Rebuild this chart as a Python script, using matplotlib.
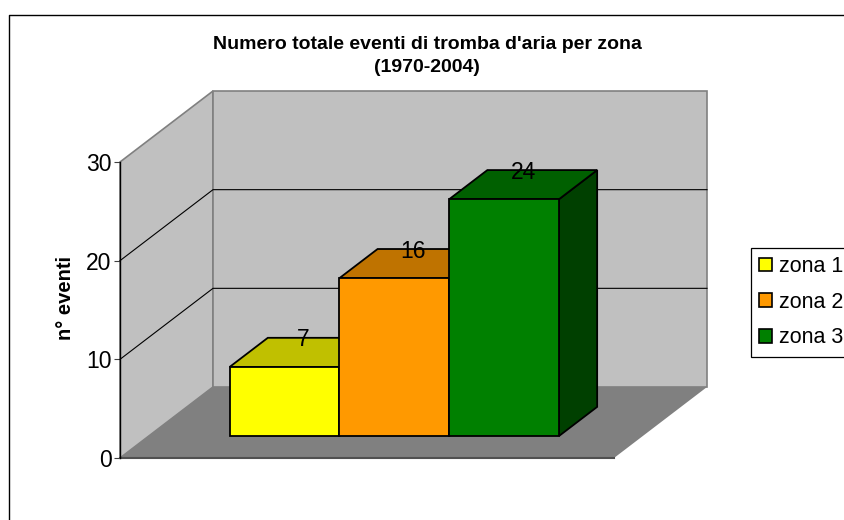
import matplotlib
matplotlib.use("Agg")
import matplotlib.pyplot as plt
from matplotlib.lines import Line2D
from matplotlib.patches import Patch

plt.rcParams["font.family"] = ["Liberation Sans", "DejaVu Sans"]

zones = ["zona 1", "zona 2", "zona 3"]
events = [7, 16, 24]
front_colors = ["#FFFF00", "#FF9900", "#008000"]
top_colors = ["#C0C000", "#BF7300", "#006000"]
side_colors = ["#C0C000", "#BF7300", "#004000"]
y_ticks = [0, 10, 20, 30]
title = "Numero totale eventi di tromba d'aria per zona\n(1970-2004)"

W, H = 845, 520
# the chart is a fake 3D: depth 0..1 shifts a point right and up
X_MAX = 494 / 110
Y_MAX = 30
DEPTH_X = 93 / 110
DEPTH_Y = 71 / (296 / 30)
BAR_DEPTH = (0.31, 0.72)
BAR_START = 0.735
BAR_WIDTH = 0.998


def project(x, v, d):
    return x + d * DEPTH_X, v + d * DEPTH_Y


def box(ax, corners, **kw):
    xs, ys = zip(*[project(*c) for c in corners])
    ax.fill(xs, ys, clip_on=False, **kw)


def main():
    fig = plt.figure(figsize=(W / 100, H / 100), dpi=100)
    ax = fig.add_axes([120 / W, 1 - 458 / H, 494 / W, 296 / H])
    ax.set_xlim(0, X_MAX)
    ax.set_ylim(0, Y_MAX)
    ax.patch.set_visible(False)

    # frame of the chart area, only left and top fall inside the picture
    fig.add_artist(Line2D([9 / W, 9 / W, 1], [0, 1 - 15 / H, 1 - 15 / H], color="black", lw=1))

    # walls and floor
    wall = {"facecolor": "#C0C0C0", "edgecolor": "#808080", "lw": 1.2, "zorder": 1}
    box(ax, [(0, 0, 0), (0, Y_MAX, 0), (0, Y_MAX, 1), (0, 0, 1)], **wall)
    box(ax, [(0, 0, 1), (0, Y_MAX, 1), (X_MAX, Y_MAX, 1), (X_MAX, 0, 1)], **wall)
    box(ax, [(0, 0, 0), (0, 0, 1), (X_MAX, 0, 1), (X_MAX, 0, 0)], facecolor="#808080", edgecolor="none", zorder=2)
    ax.plot([0, X_MAX], [0, 0], color="#505050", lw=1.5, clip_on=False, zorder=3)

    # gridlines run along the side wall and then the back wall
    for t in y_ticks[1:-1]:
        pts = [project(0, t, 0), project(0, t, 1), project(X_MAX, t, 1)]
        ax.plot(*zip(*pts), color="black", lw=0.8, clip_on=False, zorder=3)

    d0, d1 = BAR_DEPTH
    edge = {"edgecolor": "black", "lw": 1.3, "joinstyle": "miter", "zorder": 5}
    for i, v in enumerate(events):
        x0, x1 = BAR_START + i * BAR_WIDTH, BAR_START + (i + 1) * BAR_WIDTH
        box(ax, [(x1, 0, d0), (x1, v, d0), (x1, v, d1), (x1, 0, d1)], facecolor=side_colors[i], **edge)
        box(ax, [(x0, v, d0), (x0, v, d1), (x1, v, d1), (x1, v, d0)], facecolor=top_colors[i], **edge)
        box(ax, [(x0, 0, d0), (x0, v, d0), (x1, v, d0), (x1, 0, d0)], facecolor=front_colors[i], **edge)

    for i, v in enumerate(events):
        cx = BAR_START + (i + 0.5) * BAR_WIDTH + (d0 + d1) / 2 * DEPTH_X
        cy = project(0, v, d1)[1]
        ax.annotate(str(v), (cx, cy), xytext=(0, -1.5), textcoords="offset points", ha="center", va="center",
                    fontsize=16.5, zorder=6, annotation_clip=False)

    for side in ["top", "right", "bottom"]:
        ax.spines[side].set_visible(False)
    ax.spines["left"].set_zorder(4)
    ax.spines["left"].set_linewidth(1.0)
    ax.set_xticks([])
    ax.set_yticks(y_ticks)
    ax.tick_params(axis="y", labelsize=16.5, length=4, width=0.8, color="#404040", pad=2)
    ax.set_ylabel("n° eventi", fontsize=14.5, fontweight="bold")
    ax.yaxis.set_label_coords(-45 / 494, 160 / 296)

    fig.text(427 / W, 1 - 56 / H, title, ha="center", va="center", fontsize=14, fontweight="bold", linespacing=1.45)

    handles = [Patch(facecolor=c, edgecolor="black", lw=1.2) for c in front_colors]
    fig.legend(
        handles,
        zones,
        loc="upper left",
        bbox_to_anchor=(751 / W, 1 - 248 / H),
        borderaxespad=0,
        fontsize=15.5,
        fancybox=False,
        framealpha=1,
        edgecolor="black",
        handlelength=0.6,
        handleheight=0.6,
        handletextpad=0.3,
        borderpad=0.38,
        labelspacing=0.68,
    ).get_frame().set_linewidth(0.9)

    fig.savefig("out.png", dpi=100)


if __name__ == "__main__":
    main()
